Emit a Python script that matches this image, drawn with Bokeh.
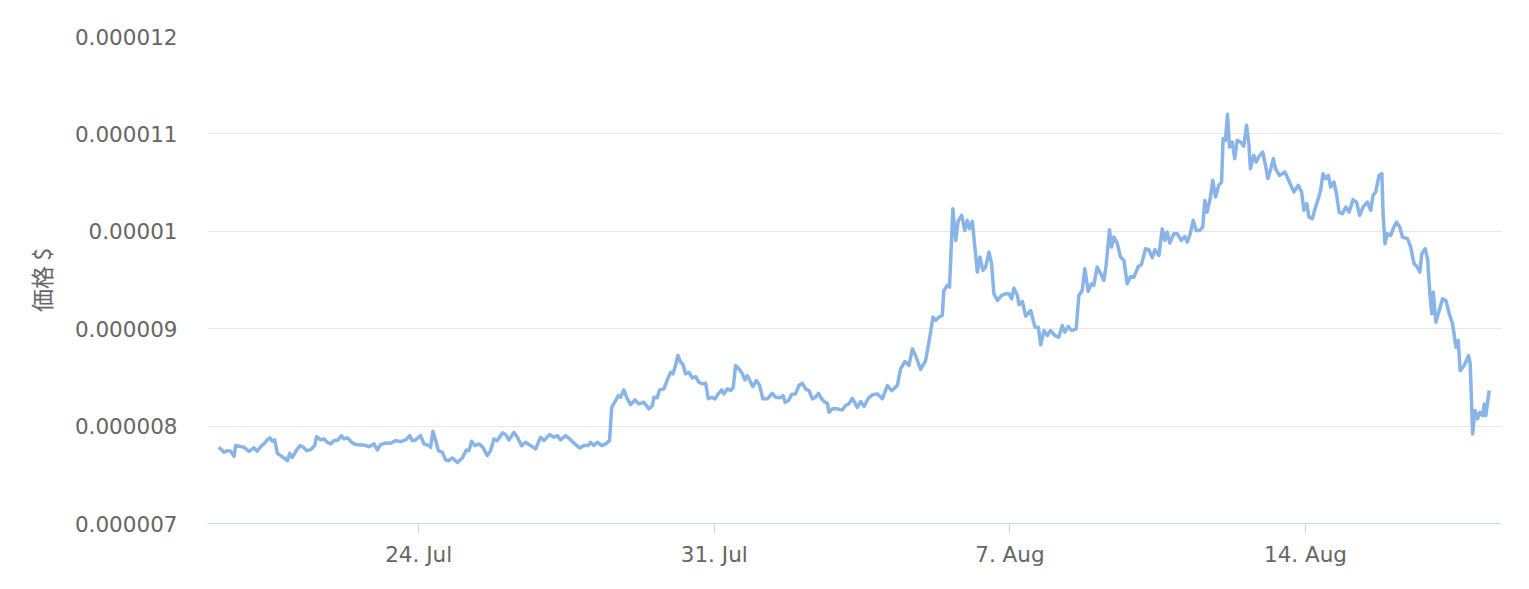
from datetime import datetime, timedelta
import calendar
from bokeh.plotting import figure
from bokeh.models import Range1d, FixedTicker, CustomJSTickFormatter, ColumnDataSource
from bokeh.embed import file_html
from bokeh.resources import INLINE

# ---- data ----
base_time = datetime(2023, 7, 19, 0, 0)
# hours since base_time
hours = [
    6.5, 9.4, 11.3, 13.2, 15.1, 16.0, 18.9, 20.7, 23.6, 26.4, 28.3, 30.2, 32.1, 34.0, 35.5, 36.9, 38.2,
    39.7, 41.6, 43.5, 45.4, 46.7, 48.2, 50.7, 52.6, 54.5, 56.4, 58.6, 60.9, 62.0, 64.3, 66.2, 68.1, 70.0,
    71.9, 73.8, 76.1, 77.6, 79.5, 81.4, 83.2, 86.1, 88.9, 91.7, 94.6, 96.5, 98.4, 101.2, 104.1, 106.9,
    109.8, 112.6, 114.9, 116.4, 118.3, 121.1, 123.0, 125.9,
    126.8, 128.1, 129.7, 131.2, 133.5, 135.3, 137.2, 139.1, 142.0, 144.8, 147.1, 148.6, 150.1, 152.0,
    154.3, 156.5, 159.0, 160.9, 162.8, 164.7, 167.6, 169.4, 171.3, 174.1, 176.1, 178.5, 180.8, 183.6,
    186.5, 189.3, 191.2, 194.4, 196.9, 198.8, 200.7, 203.5, 206.4, 208.8, 211.5, 213.9, 216.4, 217.7,
    219.6, 221.5, 224.0, 226.3, 228.5, 229.7, 231.9, 233.5, 234.8, 236.6, 238.6, 240.5, 242.9, 245.2,
    248.0, 250.9, 252.8, 253.7, 255.6, 256.9, 259.4, 261.3, 263.2, 264.5, 266.0, 267.3, 268.9, 270.2,
    271.7, 273.6, 275.5, 277.4, 279.3, 281.2, 283.1, 284.6, 286.5, 288.4, 290.3, 292.2, 293.5, 295.4,
    297.3, 298.8, 300.1, 302.0, 304.0, 305.4, 306.8, 308.7, 310.0, 311.9, 313.8, 315.6, 318.2, 321.0,
    322.9, 325.2, 327.1, 328.2, 330.1, 332.0, 334.2, 336.1, 338.1, 339.9, 341.8, 343.8, 345.6, 347.2,
    349.0, 350.9, 352.3, 353.2, 355.1, 358.0, 360.8, 362.6, 364.5,
    366.5, 369.3, 371.2, 373.1, 375.6, 377.8, 380.7, 383.5, 386.4, 388.8, 392.0, 393.9, 396.4, 398.6,
    400.6, 402.4, 405.3, 408.1, 410.0, 412.3, 413.8, 415.7, 417.6, 418.5, 420.4, 421.7, 423.6, 425.2,
    426.7, 428.6, 430.4, 431.8, 433.1, 434.7, 436.1, 437.5, 439.0, 440.7, 442.2, 444.1, 445.6, 446.9,
    448.9, 451.3, 453.6, 455.5, 457.0, 458.3, 460.3, 461.2, 463.1, 465.0, 467.8, 470.3, 472.2, 473.5,
    475.4, 477.3, 479.1, 481.6, 483.8,
    485.8, 487.2, 489.2, 491.0, 493.7, 495.2, 497.1, 498.6, 500.5, 502.4, 503.7, 505.6, 508.1, 509.4,
    510.7, 512.6, 513.8, 515.1, 517.0, 518.9, 520.8, 522.7, 524.6, 526.5, 529.0, 530.8, 533.1, 535.0,
    536.9, 538.4, 540.7, 542.6, 544.1, 545.4, 546.9, 549.2, 551.1, 553.5, 555.4, 556.8, 558.6, 560.2,
    561.9, 563.8, 565.6, 566.8, 568.1, 570.0, 571.3, 572.9, 574.7, 576.3, 577.2, 578.5, 579.7, 580.8,
    582.4, 583.8, 585.2, 587.1, 588.9, 590.5, 591.8, 592.7, 594.6, 596.0, 597.4, 599.7, 601.3, 602.6,
    604.1, 605.7, 607.0, 609.2,
    612.3, 614.6, 617.4, 619.9, 621.8, 623.1, 624.7, 626.0, 627.9, 629.4, 631.3, 632.6, 633.9, 635.5,
    637.0, 638.3, 640.2, 641.6, 643.1, 645.0, 646.9, 648.8, 651.0, 653.0, 654.8, 656.7, 659.2, 661.1,
    662.4, 663.9, 665.8, 667.4, 668.1, 669.2, 670.6, 672.5, 673.8, 675.7, 677.6, 679.1, 682.0, 683.8,
    685.7, 687.6, 689.0, 690.1, 692.0, 693.4, 694.7, 695.8, 696.6, 698.1, 700.0, 701.9, 703.8, 705.7,
    707.6, 709.5, 710.8, 711.9, 714.2, 716.7, 717.6, 719.0, 720.3, 721.8, 723.1, 724.7, 725.6, 726.5,
    728.4,
]
# price in units of 1e-6 USD
price_e6 = [
    7.782, 7.731, 7.748, 7.741, 7.690, 7.800, 7.789, 7.782, 7.741, 7.776, 7.741, 7.789, 7.817, 7.858, 7.879, 7.844, 7.858,
    7.720, 7.697, 7.673, 7.645, 7.720, 7.679, 7.755, 7.800, 7.782, 7.748, 7.758, 7.800, 7.892, 7.858, 7.868, 7.834, 7.817,
    7.851, 7.851, 7.902, 7.868, 7.879, 7.844, 7.817, 7.807, 7.807, 7.789, 7.817, 7.755, 7.810, 7.827, 7.823, 7.851,
    7.841, 7.858, 7.902, 7.851, 7.858, 7.902, 7.817, 7.800,
    7.782, 7.947, 7.851, 7.748, 7.731, 7.653, 7.645, 7.673, 7.628, 7.673, 7.755, 7.748, 7.844, 7.800,
    7.817, 7.782, 7.697, 7.748, 7.868, 7.851, 7.930, 7.913, 7.858, 7.936, 7.885, 7.800, 7.834, 7.800,
    7.766, 7.885, 7.851, 7.913, 7.885, 7.902, 7.858, 7.902, 7.858, 7.817, 7.776, 7.800, 7.800, 7.834,
    7.800, 7.834, 7.800, 7.817, 7.851, 8.193, 8.262, 8.313, 8.296, 8.372, 8.280, 8.221, 8.269, 8.228,
    8.245, 8.177, 8.211, 8.296, 8.290, 8.372, 8.382, 8.475, 8.553, 8.536, 8.622, 8.725, 8.656, 8.632,
    8.537, 8.553, 8.495, 8.509, 8.450, 8.434, 8.440, 8.280, 8.296, 8.280, 8.331, 8.372, 8.331, 8.382,
    8.365, 8.399, 8.622, 8.588, 8.537, 8.475, 8.519, 8.450, 8.406, 8.468, 8.416, 8.280, 8.280, 8.337,
    8.296, 8.290, 8.313, 8.245, 8.262, 8.324, 8.331, 8.416, 8.440, 8.382, 8.365, 8.280, 8.296, 8.337,
    8.280, 8.245, 8.234, 8.142, 8.177, 8.177, 8.166, 8.211, 8.228,
    8.286, 8.193, 8.252, 8.203, 8.286, 8.321, 8.331, 8.280, 8.416, 8.365, 8.416, 8.588, 8.663, 8.622,
    8.793, 8.725, 8.581, 8.673, 8.861, 9.118, 9.084, 9.119, 9.136, 9.393, 9.444, 9.427, 10.232, 9.906,
    10.112, 10.163, 10.009, 10.112, 10.027, 10.102, 9.838, 9.581, 9.735, 9.598, 9.632, 9.786, 9.667, 9.359,
    9.290, 9.341, 9.358, 9.358, 9.307, 9.416, 9.341, 9.246, 9.280, 9.128, 9.187, 9.015, 9.015, 8.835,
    8.981, 8.930, 8.981, 8.930, 8.913,
    9.033, 8.964, 9.023, 8.981, 8.999, 9.341, 9.393, 9.616, 9.385, 9.461, 9.444, 9.632, 9.547, 9.495,
    9.650, 10.016, 9.838, 9.940, 9.879, 9.735, 9.701, 9.461, 9.536, 9.529, 9.639, 9.660, 9.821, 9.811,
    9.729, 9.811, 9.752, 10.026, 9.906, 9.992, 9.879, 9.975, 9.975, 9.906, 9.948, 9.889, 9.982, 10.112,
    10.009, 10.009, 10.043, 10.318, 10.197, 10.352, 10.523, 10.352, 10.472, 10.506, 10.952, 10.934, 11.201, 10.865,
    10.917, 10.746, 10.935, 10.917, 10.873, 11.088, 10.900, 10.643, 10.780, 10.711, 10.763, 10.814, 10.677, 10.541,
    10.626, 10.746, 10.643, 10.574,
    10.608, 10.516, 10.403, 10.472, 10.403, 10.215, 10.284, 10.146, 10.129, 10.232, 10.335, 10.420, 10.592, 10.541,
    10.574, 10.454, 10.506, 10.386, 10.197, 10.181, 10.249, 10.197, 10.325, 10.300, 10.163, 10.249, 10.300, 10.215,
    10.369, 10.403, 10.574, 10.592, 10.180, 9.873, 9.975, 9.958, 10.026, 10.095, 10.043, 9.941, 9.924, 9.838,
    9.667, 9.632, 9.581, 9.770, 9.821, 9.718, 9.359, 9.153, 9.375, 9.067, 9.187, 9.307, 9.290, 9.153,
    9.050, 8.810, 8.879, 8.570, 8.622, 8.725, 8.639, 7.920, 8.159, 8.074, 8.142, 8.108, 8.228, 8.108,
    8.365,
]
x_tick_dates = [datetime(2023, 7, 24), datetime(2023, 7, 31), datetime(2023, 8, 7), datetime(2023, 8, 14)]
x_tick_labels = ["24. Jul", "31. Jul", "7. Aug", "14. Aug"]
y_ticks = [0.000007, 0.000008, 0.000009, 0.00001, 0.000011, 0.000012]
y_tick_labels = ["0.000007", "0.000008", "0.000009", "0.00001", "0.000011", "0.000012"]
y_title = "価格 $"

# ---- build ----
times = [base_time + timedelta(hours=h) for h in hours]
prices = [v * 1e-6 for v in price_e6]
src = ColumnDataSource(dict(t=times, p=prices))


def to_ms(d):
    return calendar.timegm(d.timetuple()) * 1000.0


x_start = base_time
x_end = base_time + timedelta(hours=735.4)

p = figure(width=1521, height=584, x_axis_type="datetime", output_backend="svg",
           toolbar_location=None, x_range=Range1d(x_start, x_end),
           y_range=Range1d(0.000007, 0.000012),
           min_border_left=207, min_border_right=20, min_border_top=36, min_border_bottom=61)
p.outline_line_color = None
p.background_fill_color = "white"
p.border_fill_color = "white"

p.line("t", "p", source=src, line_color="#88b4e8", line_width=3.5, line_join="round")

tick_ms = [to_ms(d) for d in x_tick_dates]
p.xaxis.ticker = FixedTicker(ticks=tick_ms)
p.xaxis.formatter = CustomJSTickFormatter(
    args=dict(tvals=tick_ms, tlabels=x_tick_labels),
    code="const i = tvals.findIndex(t => Math.abs(t - tick) < 1000); return i >= 0 ? tlabels[i] : '';")
p.xaxis.axis_line_color = "#ccd6eb"
p.xaxis.axis_line_width = 1
p.xaxis.major_tick_line_color = "#ccd6eb"
p.xaxis.major_tick_out = 10
p.xaxis.major_tick_in = 0
p.xaxis.minor_tick_line_color = None
p.xaxis.major_label_text_font = "DejaVu Sans"
p.xaxis.major_label_text_font_size = "21.5px"
p.xaxis.major_label_text_color = "#666666"
p.xaxis.major_label_standoff = 8
p.xgrid.grid_line_color = None

p.yaxis.ticker = FixedTicker(ticks=y_ticks)
p.yaxis.formatter = CustomJSTickFormatter(
    args=dict(tvals=y_ticks, tlabels=y_tick_labels),
    code="const i = tvals.findIndex(t => Math.abs(t - tick) < 1e-9); return i >= 0 ? tlabels[i] : '';")
p.yaxis.axis_line_color = None
p.yaxis.major_tick_line_color = None
p.yaxis.minor_tick_line_color = None
p.yaxis.major_label_text_font = "DejaVu Sans"
p.yaxis.major_label_text_font_size = "21.5px"
p.yaxis.major_label_text_color = "#666666"
p.yaxis.major_label_standoff = 24
p.yaxis.axis_label = y_title
p.yaxis.axis_label_text_font = "Noto Sans CJK JP"
p.yaxis.axis_label_text_font_size = "23px"
p.yaxis.axis_label_text_font_style = "normal"
p.yaxis.axis_label_text_color = "#666666"
p.yaxis.axis_label_standoff = 14
p.ygrid.grid_line_color = "#e6e6e6"
p.ygrid.grid_line_width = 1

open("out.html", "w").write(file_html(p, INLINE))
